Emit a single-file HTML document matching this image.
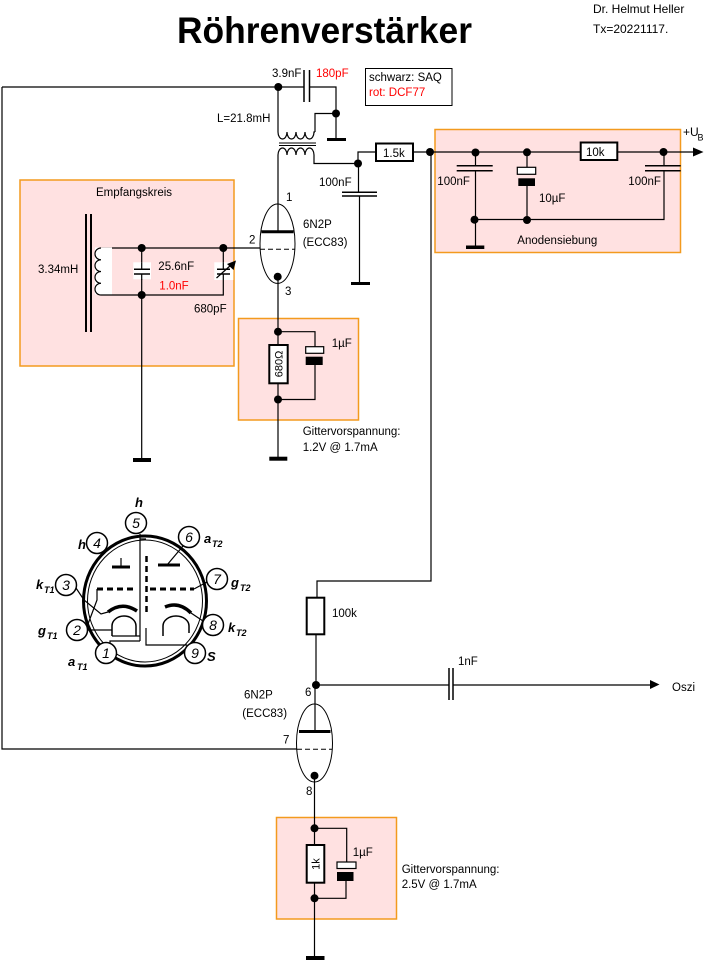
<!DOCTYPE html>
<html><head><meta charset="utf-8"><style>
html,body{margin:0;padding:0;background:#fff;}
svg{display:block;}
text{font-family:"Liberation Sans",Arial,sans-serif;}
</style></head><body>
<svg width="725" height="961" viewBox="0 0 725 961" xmlns="http://www.w3.org/2000/svg">
<rect width="725" height="961" fill="#fff"/>

<!-- Title -->
<text x="177" y="43" font-size="37" font-weight="bold" textLength="295" lengthAdjust="spacingAndGlyphs">Röhrenverstärker</text>
<text x="593" y="13" font-size="12">Dr. Helmut Heller</text>
<text x="593" y="33" font-size="12">Tx=20221117.</text>

<!-- Boxes -->
<g fill="#FFE1E1" stroke="#F39A1E" stroke-width="1.5">
<rect x="20" y="180" width="214" height="186"/>
<rect x="238.5" y="318.5" width="120" height="101.5"/>
<rect x="435" y="129.5" width="245.5" height="123"/>
<rect x="276.5" y="817.5" width="120" height="101.5"/>
</g>

<g stroke="#000" stroke-width="1.2" fill="none">
<path d="M2 87 H304 M2 87 V749 H297"/>
<path d="M304 70 V102 M309.5 70 V102" stroke-width="1.5"/>
<path d="M309.5 87 H336 V139"/>
<path d="M336 113.5 H315 V132"/>
<path d="M278 87 V132 a4.5 7 0 0 0 9 0 a4.5 7 0 0 0 9 0 a4.5 7 0 0 0 9 0 a4.5 7 0 0 0 9 0 H315"/>
<path d="M279 143 H316 M279 145.5 H316" stroke-width="1"/>
<path d="M278 231 V155 a4.5 7 0 0 1 9 0 a4.5 7 0 0 1 9 0 a4.5 7 0 0 1 9 0 a4.5 7 0 0 1 9 0 H314 M314 155 V163.5 H358"/>
<path d="M358 163.5 V152 H376 M413 152 H580.7 M617.3 152 H694"/>
<path d="M358.5 163.5 V192.3 M359.5 196 V282"/>
<path d="M342 192.3 H377 M342 196 H377" stroke-width="1.5"/>
<path d="M431 152 V581 H317 V598 M316 634 V685 H449 M453 685 H651"/>
<path d="M449 668 V700 M453 668 V700" stroke-width="1.5"/>

<ellipse cx="277.5" cy="243.7" rx="17.5" ry="39.7" stroke-width="1"/>
<path d="M261.5 231.7 H293.5" stroke-width="3"/>
<path d="M260 249.3 H295" stroke-width="1" stroke-dasharray="5,3"/>
<path d="M101 248 H260"/>
<path d="M278 277 V457"/>
<path d="M278 331.7 H315 V346.7 M315 365 V399.5 H278"/>

<path d="M86 214 V332 M91 214 V332" stroke-width="2"/>
</g>

<rect x="95" y="247.5" width="17" height="47" fill="#fff"/>
<g stroke="#000" stroke-width="1.2" fill="none">
<path d="M101 248 a6 5.875 0 0 0 0 11.75 a6 5.875 0 0 0 0 11.75 a6 5.875 0 0 0 0 11.75 a6 5.875 0 0 0 0 11.75 H223.3 V274"/>
<path d="M141.7 248 V269.3 M141.7 274 V458"/>
<path d="M223.3 248 V269.3"/>
</g>
<rect x="133.3" y="262.3" width="17.7" height="17" fill="#fff"/>
<rect x="214.3" y="262.3" width="19" height="17.7" fill="#fff"/>
<g stroke="#000" fill="none">
<path d="M134 269.3 H150 M134 274 H150" stroke-width="1.5"/>
<path d="M141.7 262.3 V269.3 M141.7 274 V280" stroke-width="1.2"/>
<path d="M217 269.3 H230 M217 274 H230" stroke-width="1.5"/>
<path d="M223.3 262.3 V269.3 M223.3 274 V280" stroke-width="1.2"/>
<path d="M216.5 278 L231 265" stroke-width="1.2"/>
</g>
<polygon points="236,260.5 233.5,270 227,264" fill="#000"/>

<g stroke="#000" stroke-width="1.2" fill="none">
<path d="M475.5 152 V165.7 M475.5 170.7 V246"/>
<path d="M456.7 165.7 H492.7 M456.7 170.7 H492.7" stroke-width="1.5"/>
<path d="M527 152 V167.3 M527 186 V219.5"/>
<path d="M664 152 V165.7 M664 170.7 V219.5 H475"/>
<path d="M645 165.7 H680.7 M645 170.7 H680.7" stroke-width="1.5"/>
</g>
<rect x="517.3" y="167.3" width="18.4" height="7" fill="#fff" stroke="#000" stroke-width="1.2"/>
<rect x="518.3" y="178.3" width="16.7" height="7.7" fill="#000"/>
<rect x="466" y="245.5" width="18.3" height="3.5" fill="#000"/>
<polygon points="693,147.5 703.5,152 693,156.5" fill="#000"/>

<g fill="#fff" stroke="#000" stroke-width="2">
<rect x="376" y="143.5" width="37" height="17.5"/>
<rect x="580.7" y="142.5" width="36.6" height="17.5"/>
<rect x="306.7" y="597.7" width="17.6" height="36.6"/>
<rect x="269.3" y="345" width="18.4" height="38.3"/>
<rect x="306.7" y="845" width="17.6" height="37.7"/>
</g>

<rect x="305.7" y="346.7" width="18" height="6.6" fill="#fff" stroke="#000" stroke-width="1.2"/>
<rect x="305.7" y="356.7" width="17" height="8.3" fill="#000"/>

<g stroke="#000" stroke-width="1.2" fill="none">
<ellipse cx="314.5" cy="743" rx="18" ry="39" stroke-width="1"/>
<path d="M315 685 V731.5"/>
<path d="M299 731.5 H330.5" stroke-width="3"/>
<path d="M297 749.3 H332" stroke-width="1" stroke-dasharray="5,3"/>
<path d="M314.5 776 V845 M314.5 882.7 V957"/>
<path d="M314.5 828.3 H346.7 V862 M346 881 V898.3 H314.5"/>
</g>
<rect x="337" y="862" width="19" height="6.5" fill="#fff" stroke="#000" stroke-width="1.2"/>
<rect x="337" y="872" width="16.5" height="9" fill="#000"/>
<polygon points="650,680 659.5,684.5 650,689" fill="#000"/>

<g fill="#000">
<rect x="327" y="138" width="19" height="3"/>
<rect x="351" y="282" width="19" height="3"/>
<rect x="269.3" y="456.7" width="18" height="4"/>
<rect x="133" y="458" width="18" height="4"/>
<rect x="306" y="956" width="18.5" height="4"/>
</g>

<g fill="#000">
<circle cx="278.3" cy="87" r="4"/>
<circle cx="336" cy="113.5" r="4"/>
<circle cx="358" cy="163.5" r="4"/>
<circle cx="430" cy="152" r="4"/>
<circle cx="475.5" cy="152.5" r="4"/>
<circle cx="527" cy="152.3" r="4"/>
<circle cx="663.5" cy="152" r="4"/>
<circle cx="474.5" cy="219.7" r="4"/>
<circle cx="527" cy="220" r="4"/>
<circle cx="141.7" cy="248" r="4"/>
<circle cx="223.3" cy="248" r="4"/>
<circle cx="141.7" cy="295" r="4"/>
<circle cx="277.7" cy="276.7" r="4"/>
<circle cx="278" cy="331.7" r="4"/>
<circle cx="278" cy="399.5" r="4"/>
<circle cx="316" cy="685" r="4"/>
<circle cx="314.5" cy="775.7" r="4"/>
<circle cx="314.5" cy="828.3" r="4"/>
<circle cx="314.5" cy="898.3" r="4"/>
</g>

<rect x="365.5" y="68.5" width="86.5" height="37" fill="#fff" stroke="#000" stroke-width="1"/>

<g font-size="11.5" fill="#000">
<text x="272" y="77">3.9nF</text>
<text x="316" y="77" fill="#f00">180pF</text>
<text x="369" y="81">schwarz: SAQ</text>
<text x="369" y="96" fill="#f00">rot: DCF77</text>
<text x="217" y="122">L=21.8mH</text>
<text x="383" y="157">1.5k</text>
<text x="586" y="156">10k</text>
<text x="683" y="136" font-size="12">+U</text>
<text x="697.5" y="140.5" font-size="9">B</text>
<text x="319" y="186">100nF</text>
<text x="437.3" y="185">100nF</text>
<text x="628.3" y="185">100nF</text>
<text x="539" y="202">10µF</text>
<text x="517.3" y="244">Anodensiebung</text>
<text x="96" y="196">Empfangskreis</text>
<text x="38" y="273">3.34mH</text>
<text x="158.3" y="270">25.6nF</text>
<text x="159.3" y="289.5" fill="#f00">1.0nF</text>
<text x="194" y="312.5">680pF</text>
<text x="286" y="201">1</text>
<text x="249" y="243.5">2</text>
<text x="285" y="295">3</text>
<text x="303" y="228">6N2P</text>
<text x="302.7" y="246">(ECC83)</text>
<text x="331.7" y="347">1µF</text>
<text x="302.7" y="435">Gittervorspannung:</text>
<text x="302.7" y="451">1.2V @ 1.7mA</text>
<text x="332" y="617">100k</text>
<text x="458" y="665">1nF</text>
<text x="672" y="691">Oszi</text>
<text x="305" y="696">6</text>
<text x="244" y="698.5">6N2P</text>
<text x="242.3" y="717">(ECC83)</text>
<text x="283" y="743.5">7</text>
<text x="306" y="795">8</text>
<text x="352.7" y="856">1µF</text>
<text x="401.7" y="873">Gittervorspannung:</text>
<text x="401.7" y="888">2.5V @ 1.7mA</text>
<text transform="translate(282.5,364) rotate(-90)" text-anchor="middle" font-size="11">680Ω</text>
<text transform="translate(319.5,864) rotate(-90)" text-anchor="middle" font-size="11">1k</text>
</g>

<g stroke="#000" fill="none">
<ellipse cx="145" cy="601" rx="61.5" ry="65" stroke-width="3"/>
<ellipse cx="145" cy="601" rx="57.5" ry="61" stroke-width="1"/>
<path d="M112 567 H130" stroke-width="3"/>
<path d="M121 558 V567" stroke-width="1.2"/>
<path d="M158 565 H180" stroke-width="3"/>
<path d="M167 565 L183 546" stroke-width="1.2"/>
<path d="M97 589 H134" stroke-width="3" stroke-dasharray="6,4"/>
<path d="M150 589 H194" stroke-width="3" stroke-dasharray="6,4"/>
<path d="M194 589 L207 582" stroke-width="1.2"/>
<path d="M146.5 556 V616" stroke-width="2.5" stroke-dasharray="6,4"/>
<path d="M140 534 V641 M140 539 H146 M146 628 V645 H187" stroke-width="1.2"/>
<path d="M108 612 Q122 601 137 611" stroke-width="3.5"/>
<path d="M165 607 Q179 601 191 613" stroke-width="3.5"/>
<path d="M76 588 L84 600 L101 614 L108 612" stroke-width="1.2"/>
<path d="M97 589 V600 L88 624" stroke-width="1.2"/>
<path d="M203 621 L191 613" stroke-width="1.2"/>
<path d="M112 636 V626 a12 10 0 0 1 24 0 V636" stroke-width="1.5"/>
<path d="M163 636 V626 a13 10 0 0 1 26 0 V633" stroke-width="1.5"/>
<path d="M87 630 H112 M112 636 H140 M140 641 H110 V645" stroke-width="1.2"/>
</g>
<g fill="#fff" stroke="#000" stroke-width="1.5">
<circle cx="136" cy="523" r="10.5"/>
<circle cx="97" cy="543" r="10.5"/>
<circle cx="189" cy="537" r="10.5"/>
<circle cx="66" cy="585" r="10.5"/>
<circle cx="217" cy="579" r="10.5"/>
<circle cx="77" cy="630" r="10.5"/>
<circle cx="213" cy="625" r="10.5"/>
<circle cx="106" cy="653" r="10.5"/>
<circle cx="195" cy="653" r="10.5"/>
</g>
<g font-size="14" font-style="italic" fill="#000" text-anchor="middle">
<text x="136" y="528">5</text>
<text x="97" y="548">4</text>
<text x="189" y="542">6</text>
<text x="66" y="590">3</text>
<text x="217" y="584">7</text>
<text x="77" y="635">2</text>
<text x="213" y="630">8</text>
<text x="106" y="658">1</text>
<text x="195" y="658">9</text>
</g>
<g font-size="13" font-style="italic" font-weight="bold" fill="#000">
<text x="135" y="507">h</text>
<text x="78" y="549">h</text>
<text x="204" y="543">a</text><text x="212" y="547" font-size="9">T2</text>
<text x="231" y="587">g</text><text x="240" y="591" font-size="9">T2</text>
<text x="228" y="632">k</text><text x="236" y="636" font-size="9">T2</text>
<text x="207" y="661">S</text>
<text x="68" y="666">a</text><text x="77" y="670" font-size="9">T1</text>
<text x="38" y="635">g</text><text x="47" y="639" font-size="9">T1</text>
<text x="36" y="589">k</text><text x="44" y="593" font-size="9">T1</text>
</g>
</svg>
</body></html>
